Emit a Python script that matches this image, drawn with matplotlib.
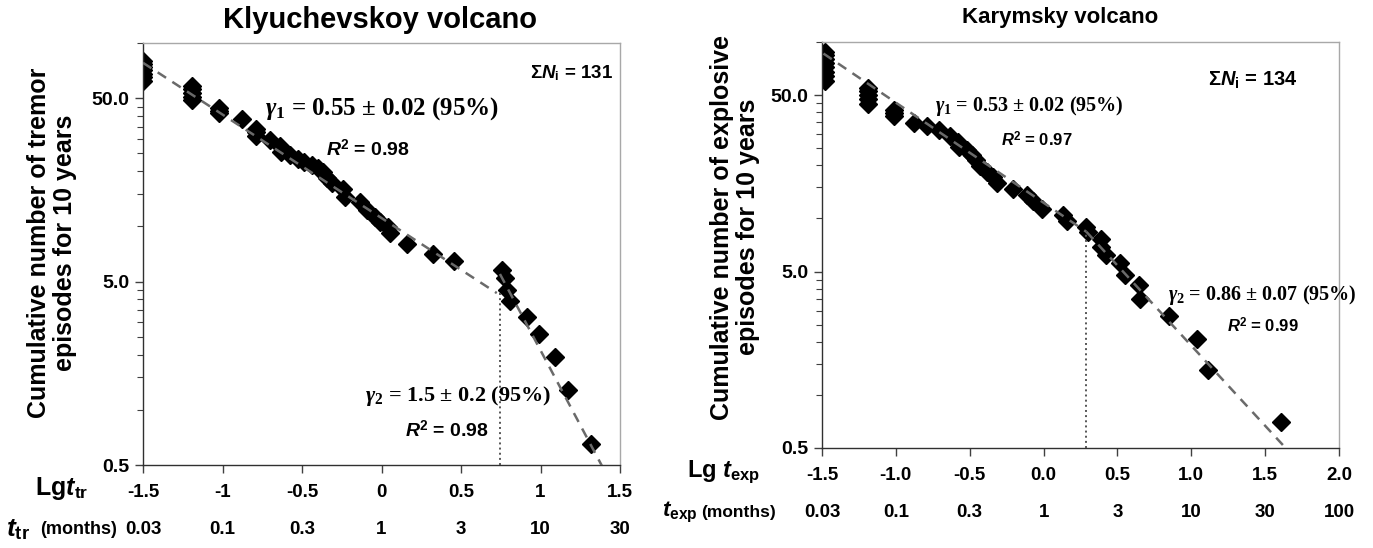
import matplotlib.pyplot as plt
from matplotlib.ticker import FixedLocator, NullFormatter

plt.rcParams['font.family'] = 'Liberation Sans'
plt.rcParams['font.weight'] = 'bold'
plt.rcParams['mathtext.fontset'] = 'custom'
plt.rcParams['mathtext.rm'] = 'Liberation Serif:bold'
plt.rcParams['mathtext.it'] = 'Liberation Serif:italic:bold'
plt.rcParams['mathtext.sf'] = 'Liberation Sans:bold'
plt.rcParams['mathtext.bf'] = 'Liberation Sans:bold'
plt.rcParams['mathtext.tt'] = 'Liberation Sans:italic:bold'

# Klyuchevskoy: lg t (months) vs cumulative number of tremor episodes
kl_lg_t = [-1.5, -1.5, -1.5, -1.5, -1.5, -1.5, -1.5,
           -1.19, -1.19, -1.19, -1.19, -1.19,
           -1.02, -1.02, -1.02, -0.88, -0.79, -0.79, -0.79,
           -0.70, -0.64, -0.63, -0.575, -0.525, -0.49, -0.44, -0.40, -0.37,
           -0.345, -0.31, -0.24, -0.23, -0.135, -0.09, -0.04, -0.01, 0.04,
           0.055, 0.16, 0.325, 0.455, 0.756, 0.777, 0.79, 0.81, 0.915, 0.99,
           1.09, 1.17, 1.32]
kl_n = [62, 65, 68, 71, 74, 77, 79.5,
        48.6, 51, 53.5, 56, 58,
        41.3, 42.6, 44, 38.5, 31.2, 32.6, 34.1,
        29.6, 27.4, 25.5, 24.5, 23.4, 22.5, 21.6, 20.8, 19.7,
        18.4, 17.3, 15.9, 14.5, 13.5, 12.3, 11.3, 10.6, 9.9,
        9.2, 8.0, 7.1, 6.5, 5.8, 5.2, 4.5, 3.9, 3.2, 2.6,
        1.93, 1.29, 0.65]
kl_fit1_x = [-1.5, 0.725]
kl_fit1_y = [78, 4.33]
kl_fit2_x = [0.745, 1.40]
kl_fit2_y = [5.5, 0.47]
kl_break_x = 0.745
kl_break_y = 4.45

# Karymsky: lg t (months) vs cumulative number of explosive episodes
ka_lg_t = [-1.48, -1.48, -1.48, -1.48, -1.48, -1.48, -1.48, -1.48,
           -1.19, -1.19, -1.19, -1.19, -1.19,
           -1.01, -1.01, -1.01, -0.875, -0.79, -0.706, -0.633, -0.577, -0.573,
           -0.52, -0.487, -0.46, -0.43, -0.385, -0.34, -0.313, -0.21, -0.114,
           -0.07, -0.01, 0.13, 0.16, 0.29, 0.30, 0.39, 0.39, 0.425, 0.52, 0.55,
           0.646, 0.653, 0.85, 1.04, 1.11, 1.61]
ka_n = [60.5, 64, 68, 72, 76, 80, 84, 88,
        44.8, 47.5, 50, 52.5, 54.8,
        38.2, 39.8, 41.4, 34.6, 33.2, 31.6, 29.4, 27.2, 25.5,
        24.5, 22.9, 21.4, 19.7, 18.4, 17.2, 15.8, 14.6, 13.6,
        12.5, 11.3, 10.4, 9.7, 9.0, 8.4, 7.6, 6.9, 6.2, 5.6, 4.8,
        4.2, 3.5, 2.8, 2.07, 1.38, 0.70]
ka_fit1_x = [-1.49, 0.29]
ka_fit1_y = [86, 8.4]
ka_fit2_x = [0.29, 1.62]
ka_fit2_y = [8.4, 0.52]
ka_break_x = 0.29
ka_break_y = 8.4

kl_ticks = [-1.5, -1, -0.5, 0, 0.5, 1, 1.5]
kl_ticklabels = ['-1.5', '-1', '-0.5', '0', '0.5', '1', '1.5']
kl_months = ['0.03', '0.1', '0.3', '1', '3', '10', '30']
ka_ticks = [-1.5, -1.0, -0.5, 0.0, 0.5, 1.0, 1.5, 2.0]
ka_ticklabels = ['-1.5', '-1.0', '-0.5', '0.0', '0.5', '1.0', '1.5', '2.0']
ka_months = ['0.03', '0.1', '0.3', '1', '3', '10', '30', '100']

y_major = [0.5, 5, 50]
y_labels = ['0.5', '5.0', '50.0']
y_minor = [1, 1.5, 2, 2.5, 3, 3.5, 4, 4.5, 10, 15, 20, 25, 30, 35, 40, 45, 100]

W, H = 1373, 548
fig = plt.figure(figsize=(W / 100, H / 100), dpi=100)


def fx(px):
    return px / W


def fy(py):
    return 1 - py / H


ax1 = fig.add_axes([fx(143), fy(465), fx(620) - fx(143), fy(43) - fy(465)])
ax2 = fig.add_axes([fx(822), fy(448), fx(1339) - fx(822), fy(42) - fy(448)])


def style(ax, xlim, ticks, labels, months, row2):
    ax.set_yscale('log')
    ax.set_ylim(0.5, 100)
    ax.set_xlim(*xlim)
    ax.set_yticks(y_major)
    ax.set_yticklabels(y_labels)
    ax.yaxis.set_minor_locator(FixedLocator(y_minor))
    ax.yaxis.set_minor_formatter(NullFormatter())
    ax.set_xticks(ticks)
    ax.set_xticklabels(labels)
    ax.tick_params(axis='x', direction='out', length=6, width=1, pad=8,
                   labelsize=13.5, color='#404040')
    ax.tick_params(axis='y', which='major', direction='out', length=6, width=1,
                   pad=4, labelsize=14, color='#404040')
    ax.tick_params(axis='y', which='minor', direction='out', length=4, width=0.8,
                   color='#404040')
    for s in ['left', 'bottom']:
        ax.spines[s].set_color('#303030')
        ax.spines[s].set_linewidth(1.0)
    for s in ['top', 'right']:
        ax.spines[s].set_color('#a8a8a8')
        ax.spines[s].set_linewidth(1.0)
    for x, m in zip(ticks, months):
        ax.text(x, row2, m, transform=ax.get_xaxis_transform(), ha='center',
                va='center', fontsize=13.5, fontweight='bold', clip_on=False)


style(ax1, (-1.5, 1.5), kl_ticks, kl_ticklabels, kl_months, -0.154)
style(ax2, (-1.5, 2.0), ka_ticks, ka_ticklabels, ka_months, -0.158)

for ax, xs, ys, f1x, f1y, f2x, f2y, bx, by in [
        (ax1, kl_lg_t, kl_n, kl_fit1_x, kl_fit1_y, kl_fit2_x, kl_fit2_y, kl_break_x, kl_break_y),
        (ax2, ka_lg_t, ka_n, ka_fit1_x, ka_fit1_y, ka_fit2_x, ka_fit2_y, ka_break_x, ka_break_y)]:
    ax.plot(xs, ys, 'D', color='black', markersize=9, zorder=2)
    ax.plot(f1x, f1y, color='#6a6a6a', lw=1.8, dashes=(4, 3), zorder=3)
    ax.plot(f2x, f2y, color='#6a6a6a', lw=1.8, dashes=(4, 3), zorder=3)
    ax.plot([bx, bx], [0.5, by], color='#555555', lw=1.4, ls=':', zorder=3)


def txt(px, py, s, size, **kw):
    fig.text(fx(px), fy(py), s, fontsize=size, fontweight='bold',
             va='center', **kw)


# titles
txt(380, 20, 'Klyuchevskoy volcano', 21, ha='center')
txt(1060, 18, 'Karymsky volcano', 16, ha='center')

# y labels
fig.text(fx(52), fy(243), 'Cumulative number of tremor\nepisodes for 10 years',
         rotation=90, ha='center', va='center', fontsize=18, fontweight='heavy',
         linespacing=1.15)
fig.text(fx(735), fy(227), 'Cumulative number of explosive\nepisodes for 10 years',
         rotation=90, ha='center', va='center', fontsize=18, fontweight='heavy',
         linespacing=1.15)

# annotations left
txt(530, 73, r'$\mathsf{Σ}\mathtt{N}_\mathsf{i}$ = 131', 13.5, ha='left')
txt(265, 109, r'$\gamma_1$ = 0.55 ± 0.02 (95%)', 18, ha='left', family='Liberation Serif')
txt(326, 150, r'$\mathtt{R}^\mathsf{2}$ = 0.98', 14, ha='left')
txt(365, 396, r'$\gamma_2$ = 1.5 ± 0.2 (95%)', 16, ha='left', family='Liberation Serif')
txt(405, 430, r'$\mathtt{R}^\mathsf{2}$ = 0.98', 14, ha='left')

# annotations right
txt(1208, 80, r'$\mathsf{Σ}\mathtt{N}_\mathsf{i}$ = 134', 14.5, ha='left')
txt(935, 106, r'$\gamma_1$ = 0.53 ± 0.02 (95%)', 14.5, ha='left', family='Liberation Serif')
txt(1001, 140, r'$\mathtt{R}^\mathsf{2}$ = 0.97', 12, ha='left')
txt(1168, 295, r'$\gamma_2$ = 0.86 ± 0.07 (95%)', 14.5, ha='left', family='Liberation Serif')
txt(1227, 326, r'$\mathtt{R}^\mathsf{2}$ = 0.99', 12, ha='left')

# axis row labels
txt(35, 488, r'Lg$\mathtt{t}_\mathsf{tr}$', 18, ha='left')
txt(6, 530, r'$\mathtt{t}_\mathsf{tr}$', 19, ha='left')
txt(40, 530, '(months)', 13, ha='left')
txt(687, 472, r'Lg $\mathtt{t}_\mathsf{exp}$', 17, ha='left')
txt(662, 512, r'$\mathtt{t}_\mathsf{exp}$', 16, ha='left')
txt(701, 512, '(months)', 12.5, ha='left')

fig.savefig('out.png', dpi=100)
